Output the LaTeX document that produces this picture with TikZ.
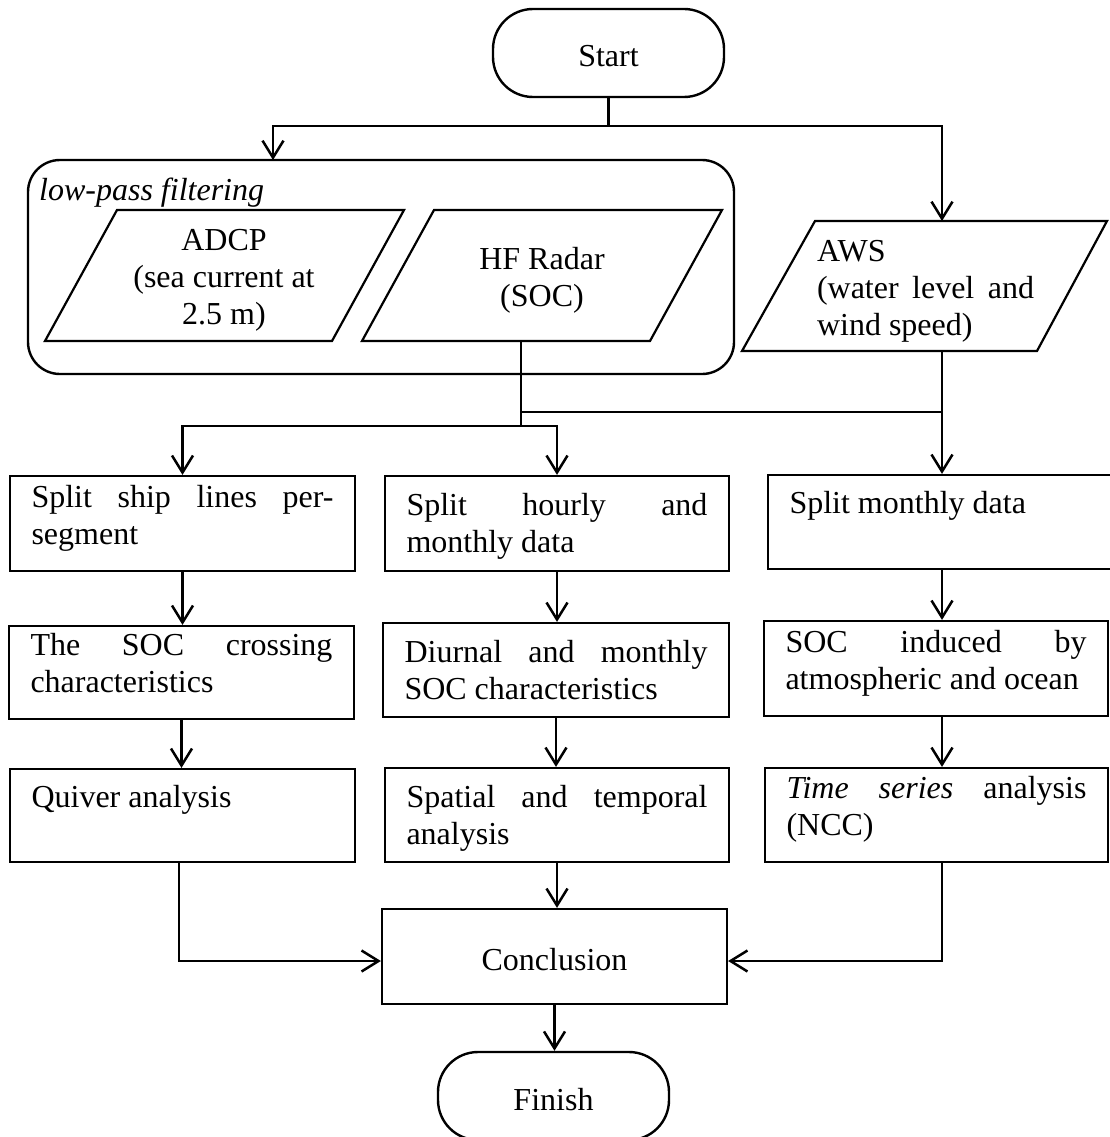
\documentclass[tikz,border=0pt]{standalone}
\usepackage{fontspec}
\setmainfont{Liberation Serif}
\usetikzlibrary{arrows.meta}
\newcommand{\btext}[4]{\begin{minipage}[c][#1pt][t]{#2pt}\rule{0pt}{#3pt}#4\end{minipage}}
\begin{document}
\begin{tikzpicture}[x=1pt,y=-1pt, font=\fontsize{32}{37}\selectfont,
 conn/.style={line width=2.5pt},
 arr/.style={conn, -{Straight Barb[length=17pt,width=21pt]}},
 pbox/.style={draw, line width=2.2pt, inner xsep=21.5pt, inner ysep=0pt},
 term/.style={draw, line width=2.4pt, rounded corners=40pt, minimum width=231pt, minimum height=88pt, inner sep=0pt, text height=28pt, text depth=0pt},
 para/.style={draw, line width=2.2pt},
]
\useasboundingbox (0,0) rectangle (1109,1137);

% terminals
\node[term] (start) at (608.5,53) {Start};
\node[term] (fin) at (553.5,1096) {Finish};

% group
\node[draw, line width=2.4pt, rounded corners=32pt, minimum width=706pt, minimum height=214pt, inner sep=0pt] (grp) at (381,267) {};
\node[anchor=base west, inner sep=0pt] (lpf) at (39,200) {\itshape low-pass filtering};

% parallelograms
\draw[para] (117,210) -- (404,210) -- (332,341) -- (45,341) -- cycle;
\node[align=center] (adcp) at (224,280.5) {ADCP\\(sea current at\\2.5 m)};
\draw[para] (434,210) -- (722,210) -- (650,341) -- (362,341) -- cycle;
\node[align=center] (hf) at (542,280) {HF Radar\\(SOC)};
\draw[para] (815,221) -- (1107,221) -- (1037,351) -- (742,351) -- cycle;
\node[inner sep=0pt] (aws) at (925.5,291) {\begin{minipage}{217pt}AWS\\(water level and\linebreak wind speed)\end{minipage}};

% process boxes
\node[pbox] (b11) at (182.5,523.5) {\btext{95}{302}{31}{Split ship lines per-\linebreak segment}};
\node[pbox] (b12) at (557,523.5) {\btext{95}{301}{39}{Split hourly and\linebreak monthly data}};
\node[pbox] (b13) at (940,522) {\btext{94}{301}{38}{Split monthly data}};
\node[pbox] (b21) at (181.5,672.5) {\btext{93}{302}{29}{The SOC crossing\linebreak characteristics}};
\node[pbox] (b22) at (556,670) {\btext{94}{303}{39}{Diurnal and monthly\linebreak SOC characteristics}};
\node[pbox] (b23) at (936,668.5) {\btext{95}{301}{31}{SOC induced by\linebreak atmospheric and ocean}};
\node[pbox] (b31) at (182.5,815.5) {\btext{93}{302}{38}{Quiver analysis}};
\node[pbox] (b32) at (557,815) {\btext{94}{301}{39}{Spatial and temporal\linebreak analysis}};
\node[pbox] (b33) at (936.5,815) {\btext{94}{300}{30}{\textit{Time series} analysis\linebreak (NCC)}};
\node[draw, line width=2.2pt, minimum width=345pt, minimum height=95pt, text height=28pt, text depth=0pt] (conc) at (554.5,956.5) {Conclusion};

% connectors
\coordinate (j1) at (608.5,126);
\coordinate (g1) at (273,160);
\coordinate (awst) at (942,221);
\draw[conn] (start.south) -- (j1);
\draw[arr] (j1) -| (g1);
\draw[arr] (j1) -| (awst);

\coordinate (hfb) at (521,341);
\coordinate (j2) at (521,426);
\coordinate (j3) at (521,412);
\coordinate (awsb) at (942,351);
\draw[conn] (hfb) -- (j2);
\draw[conn] (j3) -- (awsb |- j3);
\draw[arr] (j2) -| (b11.north);
\draw[arr] (j2) -| (b12.north);
\draw[arr] (awsb) -- (awsb |- b13.north);

\draw[arr] (b11.south) -- (b11.south |- b21.north);
\draw[arr] (b21.south) -- (b21.south |- b31.north);
\draw[arr] (b12.south) -- (b12.south |- b22.north);
\draw[arr] (b22.south) -- (b22.south |- b32.north);
\draw[arr] (awsb |- b13.south) -- (awsb |- b23.north);
\draw[arr] (awsb |- b23.south) -- (awsb |- b33.north);

\coordinate (k1) at (179,961);
\coordinate (k2) at (942,961);
\draw[arr] (b31.south -| k1) -- (k1) -- (k1 -| conc.west);
\draw[arr] (b32.south) -- (b32.south |- conc.north);
\draw[arr] (b33.south -| k2) -- (k2) -- (k2 -| conc.east);
\draw[arr] (conc.south) -- (conc.south |- fin.north);
\end{tikzpicture}
\end{document}
